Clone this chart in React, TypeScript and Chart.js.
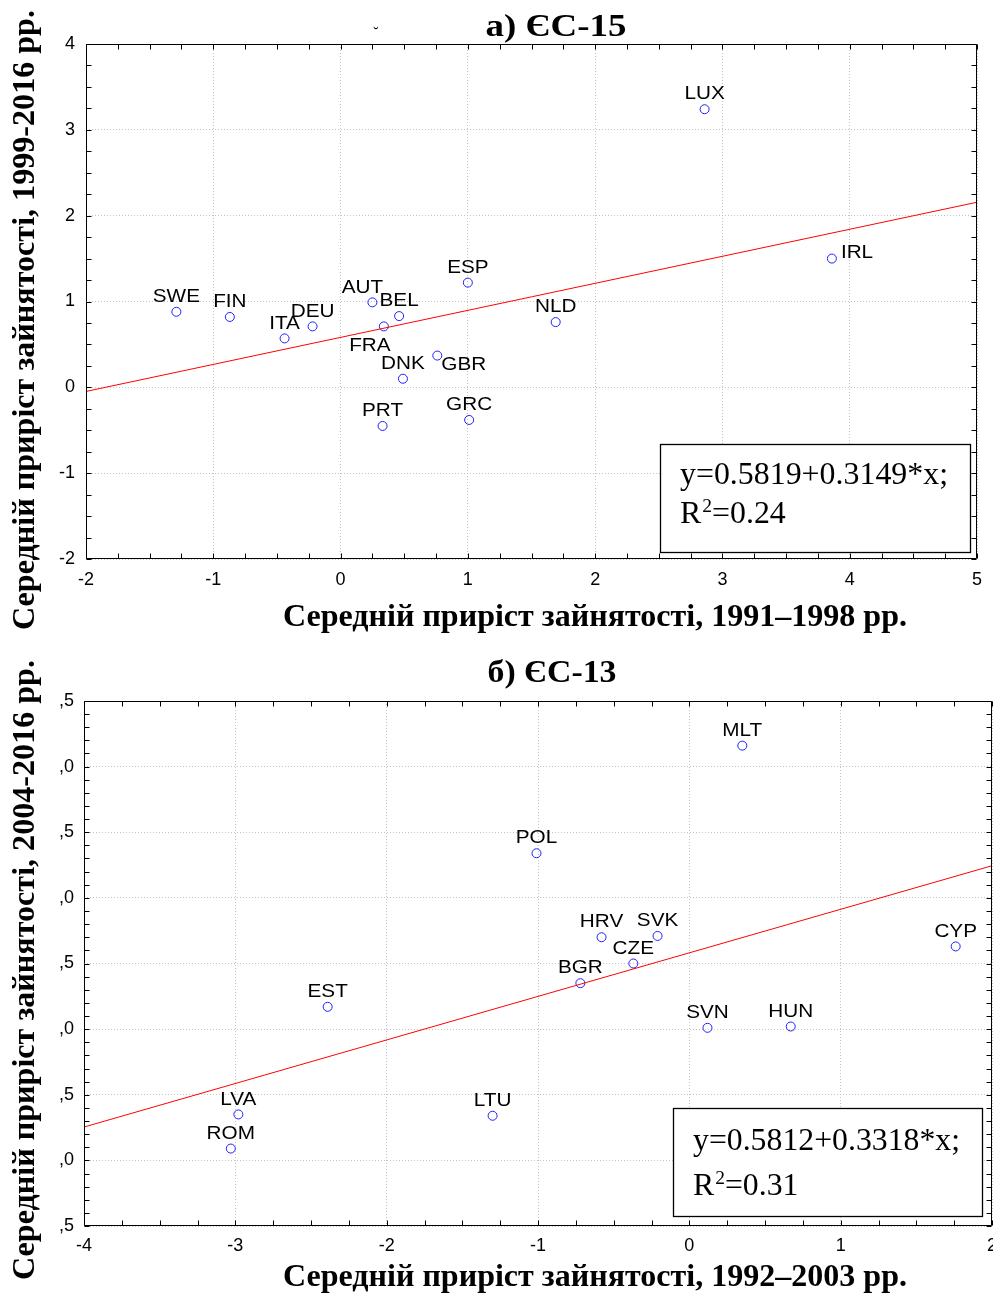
import React, { useEffect, useRef } from "react";
import { Chart, registerables } from "chart.js";

Chart.register(...registerables);

// ---------- Panel а) ЄС-15 ----------
const euCountries = ["SWE", "FIN", "ITA", "DEU", "AUT", "BEL", "FRA", "GBR", "DNK", "PRT", "GRC", "ESP", "NLD", "LUX", "IRL"];
const euX = [-1.29, -0.87, -0.44, -0.22, 0.25, 0.46, 0.34, 0.76, 0.49, 0.33, 1.01, 1.0, 1.69, 2.86, 3.86];
const euY = [0.88, 0.82, 0.57, 0.71, 0.99, 0.83, 0.71, 0.37, 0.1, -0.45, -0.38, 1.22, 0.76, 3.24, 1.5];
const euLabelSide = ["N", "N", "N", "N", "NW", "N", "SW", "E", "N", "N", "N", "N", "N", "N", "NE"];
const euIntercept = 0.5819;
const euSlope = 0.3149;
const euEquation = "y=0.5819+0.3149*x;";
const euR2 = "=0.24";
const euTitle = "а) ЄС-15";
const euXTitle = "Середній приріст зайнятості, 1991–1998 рр.";
const euYTitle = "Середній приріст зайнятості, 1999-2016 рр.";

// ---------- Panel б) ЄС-13 ----------
const nmCountries = ["MLT", "POL", "HRV", "SVK", "CZE", "BGR", "CYP", "SVN", "HUN", "EST", "LVA", "ROM", "LTU"];
const nmX = [0.35, -1.01, -0.58, -0.21, -0.37, -0.72, 1.76, 0.12, 0.67, -2.39, -2.98, -3.03, -1.3];
const nmY = [2.16, 1.34, 0.7, 0.71, 0.5, 0.35, 0.63, 0.01, 0.02, 0.17, -0.65, -0.91, -0.66];
const nmLabelSide = ["N", "N", "N", "N", "N", "N", "N", "N", "N", "N", "N", "N", "N"];
const nmIntercept = 0.5812;
const nmSlope = 0.3318;
const nmEquation = "y=0.5812+0.3318*x;";
const nmR2 = "=0.31";
const nmTitle = "б) ЄС-13";
const nmXTitle = "Середній приріст зайнятості, 1992–2003 рр.";
const nmYTitle = "Середній приріст зайнятості, 2004-2016 рр.";

const SERIF = '"Liberation Serif", "Times New Roman", serif';
const SANS = '"Liberation Sans", Arial, sans-serif';
const TICK_FS = 18;

type Area = { left: number; top: number; right: number; bottom: number };

type Panel = {
  top: number;
  h: number;
  names: string[];
  xs: number[];
  ys: number[];
  sides: string[];
  a: number;
  b: number;
  eq: string;
  r2: string;
  title: string;
  xTitle: string;
  yTitle: string;
  xMin: number;
  xMax: number;
  yMin: number;
  yMax: number;
  xStep: number;
  yStep: number;
  xMinor: number;
  yMinor: number;
  yTickFmt: (v: number) => string;
  area: Area;
  xTickPad: number;
  yTickPad: number;
  titleCx: number;
  titleBase: number;
  titleW: number;
  xTitleCx: number;
  xTitleBase: number;
  xTitleW: number;
  yTitleBaseX: number;
  yTitleCy: number;
  yTitleW: number;
  box: { x: number; y: number; w: number; h: number; tx: number; b1: number; b2: number; tw: number };
  stray: boolean;
};

function drawScaled(ctx: CanvasRenderingContext2D, text: string, x: number, y: number, font: string, sx: number, align: CanvasTextAlign) {
  ctx.save();
  ctx.font = font;
  ctx.textAlign = align;
  ctx.textBaseline = "alphabetic";
  ctx.translate(x, y);
  ctx.scale(sx, 1);
  ctx.fillText(text, 0, 0);
  ctx.restore();
}

function fitScale(ctx: CanvasRenderingContext2D, text: string, font: string, width: number) {
  ctx.save();
  ctx.font = font;
  const w = ctx.measureText(text).width;
  ctx.restore();
  return width / w;
}

const LABEL_FS = 18.5;
const LABEL_SX = 1.12;
const labelOffsets: Record<string, { dx: number; dy: number; align: CanvasTextAlign }> = {
  N: { dx: 0, dy: -16.5, align: "center" },
  NW: { dx: -10, dy: -16, align: "center" },
  SW: { dx: -14, dy: 18, align: "center" },
  E: { dx: 4, dy: 8, align: "left" },
  NE: { dx: 9, dy: -7, align: "left" },
};

function makeDecor(p: Panel) {
  return {
    id: "decor",
    afterDraw(chart: any) {
      const ctx: CanvasRenderingContext2D = chart.ctx;
      const area = chart.chartArea;
      const xs = chart.scales.x;
      const ys = chart.scales.y;
      ctx.save();
      ctx.fillStyle = "#000";

      // point labels
      const lfont = `${LABEL_FS}px ${SANS}`;
      p.names.forEach((n, i) => {
        const px = xs.getPixelForValue(p.xs[i]);
        const py = ys.getPixelForValue(p.ys[i]);
        const o = labelOffsets[p.sides[i]] || labelOffsets.N;
        drawScaled(ctx, n, px + o.dx, py + o.dy + 0.358 * LABEL_FS, lfont, LABEL_SX, o.align);
      });

      // frame
      const L = Math.round(area.left) + 0.5;
      const R = Math.round(area.right) - 0.5;
      const T = Math.round(area.top) + 0.5;
      const B = Math.round(area.bottom) - 0.5;
      ctx.strokeStyle = "#000";
      ctx.lineWidth = 1;
      ctx.beginPath();
      ctx.rect(L, T, R - L, B - T);
      // inner tick marks
      const tl = 5;
      const nx = Math.round((p.xMax - p.xMin) / p.xMinor);
      for (let k = 0; k <= nx; k++) {
        const px = Math.round(xs.getPixelForValue(p.xMin + k * p.xMinor)) + 0.5;
        ctx.moveTo(px, B);
        ctx.lineTo(px, B - tl);
        ctx.moveTo(px, T);
        ctx.lineTo(px, T + tl);
      }
      const ny = Math.round((p.yMax - p.yMin) / p.yMinor);
      for (let k = 0; k <= ny; k++) {
        const py = Math.round(ys.getPixelForValue(p.yMin + k * p.yMinor)) + 0.5;
        ctx.moveTo(L, py);
        ctx.lineTo(L + tl, py);
        ctx.moveTo(R, py);
        ctx.lineTo(R - tl, py);
      }
      ctx.stroke();

      // equation box
      const bx = p.box;
      ctx.fillStyle = "#fff";
      ctx.fillRect(bx.x, bx.y, bx.w, bx.h);
      ctx.strokeStyle = "#000";
      ctx.lineWidth = 1.3;
      ctx.strokeRect(bx.x + 0.5, bx.y + 0.5, bx.w, bx.h);
      ctx.fillStyle = "#000";
      const efont = `31px ${SERIF}`;
      const esx = fitScale(ctx, p.eq, efont, bx.tw);
      drawScaled(ctx, p.eq, bx.tx, bx.b1, efont, esx, "left");
      ctx.save();
      ctx.font = efont;
      const rw = ctx.measureText("R").width * esx;
      ctx.font = `19px ${SERIF}`;
      const sw = ctx.measureText("2").width * esx;
      ctx.restore();
      drawScaled(ctx, "R", bx.tx, bx.b2, efont, esx, "left");
      drawScaled(ctx, "2", bx.tx + rw + 1, bx.b2 - 11, `19px ${SERIF}`, esx, "left");
      drawScaled(ctx, p.r2, bx.tx + rw + sw + 1, bx.b2, efont, esx, "left");

      // titles
      const tfont = `bold 32px ${SERIF}`;
      drawScaled(ctx, p.title, p.titleCx, p.titleBase, tfont, fitScale(ctx, p.title, tfont, p.titleW), "center");
      drawScaled(ctx, p.xTitle, p.xTitleCx, p.xTitleBase, tfont, fitScale(ctx, p.xTitle, tfont, p.xTitleW), "center");
      const ysx = fitScale(ctx, p.yTitle, tfont, p.yTitleW);
      ctx.save();
      ctx.translate(p.yTitleBaseX, p.yTitleCy);
      ctx.rotate(-Math.PI / 2);
      drawScaled(ctx, p.yTitle, 0, 0, tfont, ysx, "center");
      ctx.restore();

      if (p.stray) {
        drawScaled(ctx, "˘", 376, 38, `16px ${SERIF}`, 1, "center");
      }
      ctx.restore();
    },
  };
}

const eu: Panel = {
  top: 0,
  h: 646,
  names: euCountries,
  xs: euX,
  ys: euY,
  sides: euLabelSide,
  a: euIntercept,
  b: euSlope,
  eq: euEquation,
  r2: euR2,
  title: euTitle,
  xTitle: euXTitle,
  yTitle: euYTitle,
  xMin: -2,
  xMax: 5,
  yMin: -2,
  yMax: 4,
  xStep: 1,
  yStep: 1,
  xMinor: 0.25,
  yMinor: 0.25,
  yTickFmt: (v: number) => String(v),
  area: { left: 86, top: 44, right: 977, bottom: 559 },
  xTickPad: 10,
  yTickPad: 11,
  titleCx: 556,
  titleBase: 36,
  titleW: 141,
  xTitleCx: 595,
  xTitleBase: 626,
  xTitleW: 624,
  yTitleBaseX: 34,
  yTitleCy: 320,
  yTitleW: 620,
  box: { x: 660, y: 444, w: 310, h: 108, tx: 680, b1: 484, b2: 523, tw: 268 },
  stray: true,
};

const nm: Panel = {
  top: 646,
  h: 647,
  names: nmCountries,
  xs: nmX,
  ys: nmY,
  sides: nmLabelSide,
  a: nmIntercept,
  b: nmSlope,
  eq: nmEquation,
  r2: nmR2,
  title: nmTitle,
  xTitle: nmXTitle,
  yTitle: nmYTitle,
  xMin: -4,
  xMax: 2,
  yMin: -1.5,
  yMax: 2.5,
  xStep: 1,
  yStep: 0.5,
  xMinor: 0.25,
  yMinor: 0.1,
  // leading digits of these labels are clipped in the original, only ",5" / ",0" remain visible
  yTickFmt: (v: number) => {
    const s = Math.abs(v).toFixed(1).replace(".", ",");
    return s.slice(s.indexOf(","));
  },
  area: { left: 84, top: 55, right: 992, bottom: 580 },
  xTickPad: 9,
  yTickPad: 10,
  titleCx: 552,
  titleBase: 36,
  titleW: 129,
  xTitleCx: 595,
  xTitleBase: 640,
  xTitleW: 624,
  yTitleBaseX: 34,
  yTitleCy: 324,
  yTitleW: 620,
  box: { x: 673, y: 462, w: 309, h: 108, tx: 693, b1: 504, b2: 549, tw: 267 },
  stray: false,
};

function PanelChart({ p }: { p: Panel }) {
  const ref = useRef<HTMLCanvasElement>(null);
  useEffect(() => {
    const canvas = ref.current;
    if (!canvas) return;
    const points = p.xs.map((x, i) => ({ x, y: p.ys[i] }));
    const linePts = [
      { x: p.xMin, y: p.a + p.b * p.xMin },
      { x: p.xMax, y: p.a + p.b * p.xMax },
    ];
    const pad = { top: p.area.top, right: 993 - p.area.right, bottom: 0, left: 0 };
    const chart = new Chart(canvas, {
      type: "scatter",
      data: {
        datasets: [
          {
            type: "line",
            data: linePts,
            borderColor: "#ff0000",
            borderWidth: 1,
            pointRadius: 0,
            fill: false,
          } as any,
          {
            data: points,
            pointStyle: "circle",
            pointRadius: 4.5,
            borderColor: "#1f1fff",
            backgroundColor: "rgba(0,0,0,0)",
            borderWidth: 1,
          },
        ],
      },
      options: {
        animation: false,
        responsive: false,
        devicePixelRatio: 1,
        layout: { autoPadding: false, padding: { ...pad } },
        plugins: { legend: { display: false }, tooltip: { enabled: false } },
        scales: {
          x: {
            type: "linear",
            min: p.xMin,
            max: p.xMax,
            ticks: {
              stepSize: p.xStep,
              padding: p.xTickPad,
              color: "#000",
              font: { family: SANS, size: TICK_FS },
              maxRotation: 0,
              autoSkip: false,
              callback: (v: any) => String(v),
            },
            grid: { color: "#c4c4c4", lineWidth: 1, drawTicks: false },
            border: { display: false, dash: [1, 2] },
            afterFit: (s: any) => {
              s.height = p.h - p.area.bottom;
              s.paddingLeft = 0;
              s.paddingRight = 0;
            },
          },
          y: {
            type: "linear",
            min: p.yMin,
            max: p.yMax,
            ticks: {
              stepSize: p.yStep,
              padding: p.yTickPad,
              color: "#000",
              font: { family: SANS, size: TICK_FS },
              autoSkip: false,
              callback: (v: any) => p.yTickFmt(Number(v)),
            },
            grid: { color: "#c4c4c4", lineWidth: 1, drawTicks: false },
            border: { display: false, dash: [1, 2] },
            afterFit: (s: any) => {
              s.width = p.area.left;
              s.paddingTop = 0;
              s.paddingBottom = 0;
            },
          },
        },
      },
      plugins: [makeDecor(p)],
    } as any);
    // nudge layout padding so the plot area lands exactly where the reference has it
    for (let it = 0; it < 3; it++) {
      const a = chart.chartArea;
      const dl = p.area.left - a.left;
      const dt = p.area.top - a.top;
      const dr = p.area.right - a.right;
      const db = p.area.bottom - a.bottom;
      if (Math.abs(dl) < 0.3 && Math.abs(dt) < 0.3 && Math.abs(dr) < 0.3 && Math.abs(db) < 0.3) break;
      pad.left += dl;
      pad.top += dt;
      pad.right -= dr;
      pad.bottom -= db;
      (chart.options as any).layout.padding = { ...pad };
      chart.update();
    }
    return () => chart.destroy();
  }, []);
  return (
    <canvas
      ref={ref}
      width={993}
      height={p.h}
      style={{ position: "absolute", left: 0, top: p.top, width: 993, height: p.h, display: "block" }}
    />
  );
}

export default function App() {
  return (
    <div style={{ position: "absolute", left: 0, top: 0, width: 993, height: 1293, background: "#fff", overflow: "hidden" }}>
      <PanelChart p={eu} />
      <PanelChart p={nm} />
    </div>
  );
}
